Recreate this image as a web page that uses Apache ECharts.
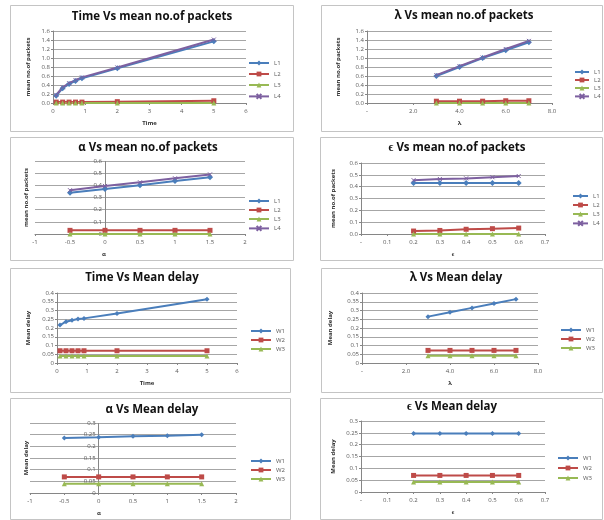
<!DOCTYPE html>
<html>
<head>
<meta charset="utf-8">
<script src="https://cdn.jsdelivr.net/npm/echarts@6/dist/echarts.min.js"></script>
<style>
  html, body { margin: 0; padding: 0; background: #fff; }
  #main { width: 604px; height: 520px; }
</style>
</head>
<body>
<div id="main"></div>
<script>
// x values of each experiment
const timeX = [0.1, 0.3, 0.5, 0.7, 0.9, 2, 5];
const lambdaX = [3, 4, 5, 6, 7];
const alphaX = [-0.5, 0, 0.5, 1, 1.5];
const epsX = [0.2, 0.3, 0.4, 0.5, 0.6];

// mean no. of packets
const timeL1 = [0.16, 0.33, 0.42, 0.49, 0.55, 0.77, 1.37];
const timeL2 = [0.02, 0.02, 0.02, 0.02, 0.02, 0.03, 0.05];
const timeL3 = [0, 0, 0, 0, 0, 0, 0];
const timeL4 = [0.18, 0.35, 0.44, 0.51, 0.57, 0.79, 1.41];

const lambdaL1 = [0.6, 0.8, 1.0, 1.17, 1.35];
const lambdaL2 = [0.04, 0.04, 0.04, 0.05, 0.05];
const lambdaL3 = [0, 0, 0, 0, 0];
const lambdaL4 = [0.62, 0.82, 1.01, 1.2, 1.38];

const alphaL1 = [0.34, 0.37, 0.4, 0.435, 0.466];
const alphaL2 = [0.03, 0.03, 0.03, 0.03, 0.03];
const alphaL3 = [0, 0, 0, 0, 0];
const alphaL4 = [0.36, 0.395, 0.425, 0.458, 0.49];

const epsL1 = [0.43, 0.43, 0.43, 0.43, 0.43];
const epsL2 = [0.025, 0.03, 0.04, 0.045, 0.05];
const epsL3 = [0, 0, 0, 0, 0];
const epsL4 = [0.455, 0.465, 0.47, 0.48, 0.49];

// mean delay
const timeW1 = [0.217, 0.236, 0.244, 0.251, 0.255, 0.283, 0.364];
const timeW2 = [0.07, 0.07, 0.07, 0.07, 0.07, 0.07, 0.07];
const timeW3 = [0.04, 0.04, 0.04, 0.04, 0.04, 0.04, 0.04];

const lambdaW1 = [0.265, 0.29, 0.315, 0.34, 0.365];
const lambdaW2 = [0.072, 0.072, 0.072, 0.072, 0.072];
const lambdaW3 = [0.042, 0.042, 0.042, 0.042, 0.042];

const alphaW1 = [0.236, 0.239, 0.243, 0.245, 0.25];
const alphaW2 = [0.069, 0.069, 0.069, 0.069, 0.069];
const alphaW3 = [0.04, 0.04, 0.04, 0.04, 0.04];

const epsW1 = [0.247, 0.247, 0.247, 0.247, 0.247];
const epsW2 = [0.07, 0.07, 0.07, 0.07, 0.07];
const epsW3 = [0.042, 0.042, 0.042, 0.042, 0.042];

const packetNames = ['L1', 'L2', 'L3', 'L4'];
const delayNames = ['W1', 'W2', 'W3'];

const titles = [
    'Time Vs mean no.of packets', 'λ Vs mean no.of packets',
    'α Vs mean no.of packets', 'ϵ Vs mean no.of packets',
    'Time Vs Mean delay', 'λ Vs Mean delay',
    'α Vs Mean delay', 'ϵ Vs Mean delay'
];

// label formatters
const fmtInt = v => String(v);
const fmtDash = v => (Math.abs(v) < 1e-9 ? '-' : v.toFixed(1));
const fmtPlain = v => String(+v.toFixed(2));
const fmtFix1 = v => v.toFixed(1);
const fmtZero1 = v => (Math.abs(v) < 1e-9 ? '0' : v.toFixed(1));

const styles = {
    L1: {color: '#4A7EBB', symbol: 'diamond', size: 6},
    L2: {color: '#BE4B48', symbol: 'rect', size: 5},
    L3: {color: '#98B954', symbol: 'triangle', size: 5},
    L4: {color: '#7D60A0', symbol: 'path://M0,0L10,10M10,0L0,10', size: 4},
    W1: {color: '#4A7EBB', symbol: 'diamond', size: 5},
    W2: {color: '#BE4B48', symbol: 'rect', size: 5},
    W3: {color: '#98B954', symbol: 'triangle', size: 5}
};

// layout of the 8 panels (absolute pixels)
const panels = [
    {frame: [10, 5, 283, 126], grid: [53, 31, 193, 72], title: [152, 19],
     x: {min: 0, max: 6, step: 1, fmt: fmtInt, name: 'Time', shift: 0},
     y: {min: 0, max: 1.6, step: 0.2, fmt: fmtFix1, name: 'mean no.of packets', gap: 22, cross: false},
     legend: [248, 63, 5, 20], xs: timeX, ys: [timeL1, timeL2, timeL3, timeL4], names: packetNames},
    {frame: [321, 5, 281, 126], grid: [367, 31, 185, 72], title: [464, 18],
     x: {min: 0, max: 8, step: 2, fmt: fmtDash, name: 'λ', shift: 0},
     y: {min: 0, max: 1.6, step: 0.2, fmt: fmtFix1, name: 'mean no.of packets', gap: 26, cross: false},
     legend: [574, 72, 2, 14], xs: lambdaX, ys: [lambdaL1, lambdaL2, lambdaL3, lambdaL4], names: packetNames},
    {frame: [10, 137, 283, 123], grid: [35, 161, 210, 73], title: [148, 150],
     x: {min: -1, max: 2, step: 0.5, fmt: fmtPlain, name: 'α', shift: 36},
     y: {min: 0, max: 0.6, step: 0.1, fmt: fmtZero1, name: 'mean no.of packets', gap: 6, cross: true},
     legend: [248, 201, 3, 20], xs: alphaX, ys: [alphaL1, alphaL2, alphaL3, alphaL4], names: packetNames},
    {frame: [320, 137, 282, 123], grid: [361, 163, 184, 71], title: [457, 150],
     x: {min: 0, max: 0.7, step: 0.1, fmt: fmtDash, name: 'ϵ', shift: 0},
     y: {min: 0, max: 0.6, step: 0.1, fmt: fmtFix1, name: 'mean no.of packets', gap: 25, cross: false},
     legend: [572, 196, 3, 15], xs: epsX, ys: [epsL1, epsL2, epsL3, epsL4], names: packetNames},
    {frame: [10, 268, 280, 124], grid: [57, 293, 180, 70], title: [142, 280],
     x: {min: 0, max: 6, step: 1, fmt: fmtInt, name: 'Time', shift: 0},
     y: {min: 0, max: 0.4, step: 0.05, fmt: fmtPlain, name: 'Mean delay', gap: 26, cross: false},
     legend: [250, 331, 3, 20], xs: timeX, ys: [timeW1, timeW2, timeW3], names: delayNames},
    {frame: [321, 268, 281, 124], grid: [362, 293, 176, 70], title: [456, 280],
     x: {min: 0, max: 8, step: 2, fmt: fmtDash, name: 'λ', shift: 0},
     y: {min: 0, max: 0.4, step: 0.05, fmt: fmtPlain, name: 'Mean delay', gap: 29, cross: false},
     legend: [560, 330, 3, 20], xs: lambdaX, ys: [lambdaW1, lambdaW2, lambdaW3], names: delayNames},
    {frame: [10, 398, 280, 121], grid: [30, 423, 206, 70], title: [152, 412],
     x: {min: -1, max: 2, step: 0.5, fmt: fmtPlain, name: 'α', shift: 34},
     y: {min: 0, max: 0.3, step: 0.05, fmt: fmtPlain, name: 'Mean delay', gap: 1, cross: true},
     legend: [250, 461, 3, 20], xs: alphaX, ys: [alphaW1, alphaW2, alphaW3], names: delayNames},
    {frame: [320, 398, 282, 121], grid: [361, 421, 184, 71], title: [452, 409],
     x: {min: 0, max: 0.7, step: 0.1, fmt: fmtDash, name: 'ϵ', shift: 0},
     y: {min: 0, max: 0.3, step: 0.05, fmt: fmtPlain, name: 'Mean delay', gap: 25, cross: false},
     legend: [557, 458, 4, 20], xs: epsX, ys: [epsW1, epsW2, epsW3], names: delayNames}
];

const font = 'Open Sans';
const axisColor = '#868686';
const labelColor = '#595959';

const option = {
    backgroundColor: '#fff',
    animation: false,
    title: [], grid: [], xAxis: [], yAxis: [], legend: [], series: [], graphic: []
};

panels.forEach((p, i) => {
    // pixel distance from the plot's left edge to x = 0 (value axis crossing)
    const zeroOff = p.y.cross ? p.grid[2] * (0 - p.x.min) / (p.x.max - p.x.min) : 0;

    option.graphic.push({
        type: 'rect', silent: true, z: -1,
        shape: {x: p.frame[0] + 0.5, y: p.frame[1] + 0.5, width: p.frame[2], height: p.frame[3]},
        style: {fill: 'none', stroke: '#c4c4c4', lineWidth: 1}
    });
    option.title.push({
        text: titles[i], left: p.title[0], top: p.title[1] - 8, textAlign: 'center', padding: 0,
        textStyle: {fontSize: 11.5, fontWeight: 'bold', color: '#111', fontFamily: font}
    });
    option.grid.push({
        left: p.grid[0], top: p.grid[1], width: p.grid[2], height: p.grid[3],
        containLabel: false, outerBoundsMode: 'none'
    });
    option.xAxis.push({
        type: 'value', gridIndex: i, min: p.x.min, max: p.x.max, interval: p.x.step,
        name: p.x.name, nameLocation: 'middle', nameGap: 17, nameMoveOverlap: false,
        nameTextStyle: {fontSize: 6, fontWeight: 'bold', color: '#333', fontFamily: font,
            padding: [0, p.x.shift * 2, 0, 0]},
        axisLine: {onZero: false, lineStyle: {color: axisColor, width: 1}},
        axisTick: {show: true, length: 2, lineStyle: {color: axisColor}},
        axisLabel: {fontSize: 6, color: labelColor, margin: 5, fontFamily: font, formatter: p.x.fmt,
            showMinLabel: true, showMaxLabel: true},
        splitLine: {show: false}
    });
    option.yAxis.push({
        type: 'value', gridIndex: i, min: p.y.min, max: p.y.max, interval: p.y.step,
        position: 'left',
        name: p.y.name, nameLocation: 'middle', nameGap: p.y.gap, nameMoveOverlap: false,
        nameTextStyle: {fontSize: 6, fontWeight: 'bold', color: '#333', fontFamily: font},
        axisLine: {show: !p.y.cross, onZero: false, lineStyle: {color: axisColor, width: 1}},
        axisTick: {show: !p.y.cross, length: 2, lineStyle: {color: axisColor}},
        axisLabel: {fontSize: 6, color: labelColor, margin: 3 - zeroOff, fontFamily: font, formatter: p.y.fmt,
            showMinLabel: true, showMaxLabel: true},
        splitLine: {show: true, lineStyle: {color: '#a6a6a6', width: 1}}
    });
    option.legend.push({
        orient: 'vertical', left: p.legend[0], top: p.legend[1] - 3, padding: 0,
        itemWidth: p.legend[3], itemHeight: 6, itemGap: p.legend[2], selectedMode: false,
        textStyle: {fontSize: 6, color: labelColor, fontFamily: font},
        data: p.names
    });
    p.names.forEach((name, k) => {
        const s = styles[name];
        const ser = {
            type: 'line', name: name, xAxisIndex: i, yAxisIndex: i,
            data: p.xs.map((x, j) => [x, p.ys[k][j]]),
            symbol: s.symbol, symbolSize: s.size, showSymbol: true,
            lineStyle: {color: s.color, width: 2},
            itemStyle: {color: s.color, borderColor: s.color, borderWidth: name === 'L4' ? 1 : 0},
            emphasis: {disabled: true}
        };
        if (p.y.cross && k === 0) {
            // vertical value axis drawn where x = 0
            ser.markLine = {
                silent: true, symbol: ['none', 'none'], label: {show: false}, z: 1,
                lineStyle: {color: axisColor, type: 'solid', width: 1},
                data: [{xAxis: 0}]
            };
        }
        option.series.push(ser);
    });
});

const chart = echarts.init(document.getElementById('main'));
chart.setOption(option);
</script>
</body>
</html>
